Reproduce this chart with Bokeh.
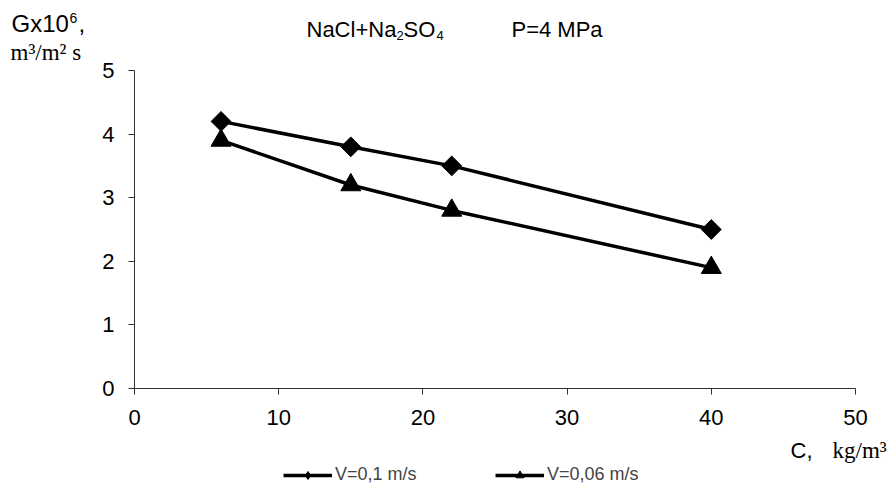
from bokeh.plotting import figure
from bokeh.layouts import column, row
from bokeh.models import Range1d, FixedTicker, Legend, LegendItem
from bokeh.core.properties import value
from bokeh.embed import file_html
from bokeh.resources import INLINE

# Permeate flux vs. salt concentration, NaCl+Na2SO4 feed at P = 4 MPa
conc = [6, 15, 22, 40]                 # C, kg/m3
flux_v01 = [4.2, 3.8, 3.5, 2.5]        # G x 10^6, V = 0.1 m/s
flux_v006 = [3.9, 3.2, 2.8, 1.9]       # G x 10^6, V = 0.06 m/s

x_ticks = [0, 10, 20, 30, 40, 50]
y_ticks = [0, 1, 2, 3, 4, 5]
series_labels = ["V=0,1 m/s", "V=0,06 m/s"]

X_MIN, X_MAX = 0, 50
Y_MIN, Y_MAX = 0, 5

W, H = 896, 486
SIDE_W = 95                     # strip left of the chart holding the y quantity
TOP_H, BOTTOM_Y = 56, 436       # header band height, top of footer band
FRAME_L, FRAME_R, FRAME_T, FRAME_B = 134, 855, 70, 388

SANS = "Liberation Sans"
SERIF = "Liberation Serif"


def band(x0, x1, y0, y1):
    """A blank strip whose data units are page pixels (y grows downward)."""
    f = figure(width=x1 - x0, height=y1 - y0,
               x_range=Range1d(x0, x1), y_range=Range1d(y1, y0),
               x_axis_type=None, y_axis_type=None,
               output_backend="svg", toolbar_location=None, min_border=0,
               frame_align=False)
    f.outline_line_color = None
    f.xgrid.visible = False
    f.ygrid.visible = False
    return f


def put(f, x, y, text, font=SANS, size=22):
    """Left-aligned text whose vertical centre sits at y."""
    f.text(x=[x], y=[y], text=[text], text_font=value(font),
           text_font_size=value(f"{size}px"), text_color="black",
           text_baseline="middle", text_align="left")


# ---- left strip: y quantity
side = band(0, SIDE_W, 0, H)
put(side, 11, 23, "Gx10", size=24)
put(side, 69, 17, "6", size=14)
put(side, 78, 23, ",", size=24)
put(side, 10, 52, "m³/m² s", font=SERIF, size=23)

# ---- header: chart title
top = band(SIDE_W, W, 0, TOP_H)
put(top, 306, 29, "NaCl+Na", size=22)
put(top, 396, 35, "2", size=13)
put(top, 403, 29, "SO", size=22)
put(top, 436, 35, "4", size=13)
put(top, 511, 29, "P=4 MPa", size=22)

# ---- chart
p = figure(
    width=W - SIDE_W, height=BOTTOM_Y - TOP_H,
    x_range=Range1d(X_MIN, X_MAX), y_range=Range1d(Y_MIN, Y_MAX),
    output_backend="svg", toolbar_location=None, frame_align=False,
    min_border_left=FRAME_L - SIDE_W, min_border_right=W - FRAME_R,
    min_border_top=FRAME_T - TOP_H, min_border_bottom=BOTTOM_Y - FRAME_B,
)
p.outline_line_color = None
p.xgrid.visible = False
p.ygrid.visible = False

for ax in (p.xaxis[0], p.yaxis[0]):
    ax.axis_line_color = "#303030"
    ax.axis_line_width = 1
    ax.major_tick_line_color = "#303030"
    ax.major_tick_in = 0
    ax.major_tick_out = 6
    ax.minor_tick_line_color = None
    ax.major_label_text_font = SANS
    ax.major_label_text_font_size = "22px"
    ax.major_label_text_color = "black"

p.xaxis.ticker = FixedTicker(ticks=x_ticks)
p.yaxis.ticker = FixedTicker(ticks=y_ticks)
p.xaxis.major_label_standoff = 15
p.yaxis.major_label_standoff = 14

line_style = dict(line_color="black", line_width=3.5)
diamond_style = dict(marker="square", angle=0.785398, size=14,
                     fill_color="black", line_color="black")
triangle_style = dict(marker="triangle", size=20,
                      fill_color="black", line_color="black")

p.line(conc, flux_v01, **line_style)
p.scatter(conc, flux_v01, **diamond_style)
p.line(conc, flux_v006, **line_style)
p.scatter(conc, flux_v006, **triangle_style)

# ---- footer: x quantity and legend
bottom = band(SIDE_W, W, BOTTOM_Y, H)
put(bottom, 790, 450, "C,", size=22)
put(bottom, 832, 450, "kg/m³", font=SERIF, size=23)

# legend swatches: renderers with no visible points, same styling as the chart
nan = float("nan")
k1 = bottom.line([nan], [nan], **line_style)
s1 = bottom.scatter([nan], [nan], marker="diamond", size=14,
                    fill_color="black", line_color="black")
k2 = bottom.line([nan], [nan], **line_style)
s2 = bottom.scatter([nan], [nan], **triangle_style)

legend = Legend(
    items=[LegendItem(label=series_labels[0], renderers=[k1, s1]),
           LegendItem(label=series_labels[1], renderers=[k2, s2])],
    orientation="horizontal",
    location=(283 - SIDE_W, 1),
    label_text_font=SANS, label_text_font_size="18px",
    glyph_width=49, glyph_height=20, label_standoff=3,
    label_width=92, spacing=68, padding=0, margin=0,
    border_line_color=None, background_fill_alpha=0,
)
bottom.add_layout(legend, "center")

page = row(side, column(top, p, bottom, spacing=0), spacing=0)
open("out.html", "w").write(file_html(page, INLINE))
